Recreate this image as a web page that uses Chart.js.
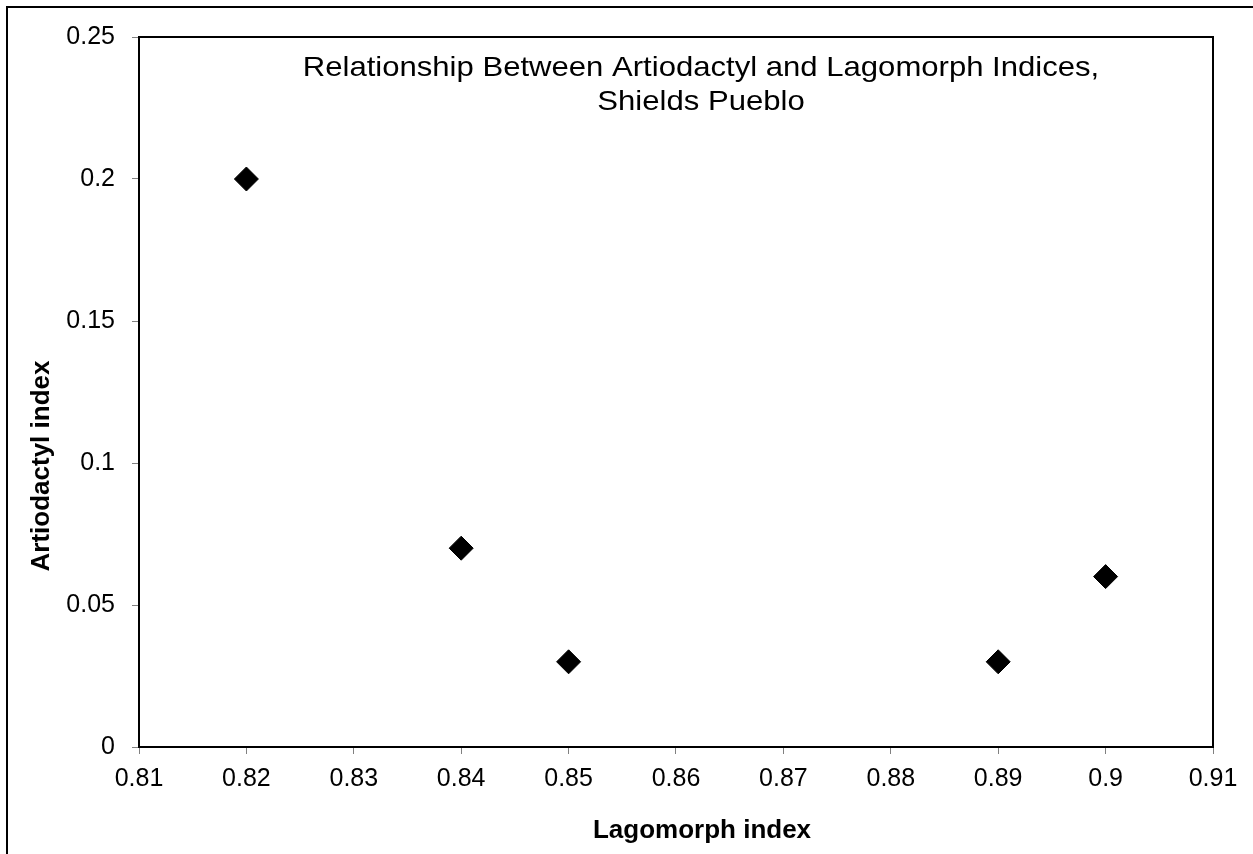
<!DOCTYPE html>
<html>
<head>
<meta charset="utf-8">
<title>Artiodactyl vs Lagomorph Indices</title>
<script src="https://cdn.jsdelivr.net/npm/chart.js@4/dist/chart.umd.min.js"></script>
<style>
  html, body { margin: 0; padding: 0; background: #fff; }
  #wrap { width: 1253px; height: 854px; position: relative; }
</style>
</head>
<body>
<div id="wrap"><canvas id="chart"></canvas></div>
<script>
// data
const lagomorphIndex = [0.82, 0.84, 0.85, 0.89, 0.90];
const artiodactylIndex = [0.20, 0.07, 0.03, 0.03, 0.06];

// axis ticks
const xTicks = [0.81, 0.82, 0.83, 0.84, 0.85, 0.86, 0.87, 0.88, 0.89, 0.90, 0.91];
const yTicks = [0, 0.05, 0.10, 0.15, 0.20, 0.25];

const titleLines = ['Relationship Between Artiodactyl and Lagomorph Indices,', 'Shields Pueblo'];
const xTitle = 'Lagomorph index';
const yTitle = 'Artiodactyl index';

const FONT = "'Liberation Sans', Arial, Helvetica, sans-serif";

// frame around the whole picture (only top/left visible) and box around the plot
const framePlugin = {
  id: 'frame',
  beforeDraw(chart) {
    const ctx = chart.ctx;
    ctx.save();
    ctx.fillStyle = '#fff';
    ctx.fillRect(0, 0, chart.width, chart.height);
    ctx.strokeStyle = '#000';
    ctx.lineWidth = 2;
    ctx.beginPath();
    ctx.moveTo(7, chart.height);
    ctx.lineTo(7, 7);
    ctx.lineTo(chart.width, 7);
    ctx.stroke();
    ctx.restore();
  },
  afterDatasetsDraw(chart) {
    const a = chart.chartArea;
    const ctx = chart.ctx;
    ctx.save();
    ctx.strokeStyle = '#000';
    ctx.lineWidth = 2;
    ctx.beginPath();
    ctx.moveTo(a.left, a.top);
    ctx.lineTo(a.right, a.top);
    ctx.lineTo(a.right, a.bottom);
    ctx.stroke();
    ctx.restore();
  }
};

// title sits inside the plot, axis titles are placed off-centre like in the original
const textPlugin = {
  id: 'texts',
  afterDraw(chart) {
    const ctx = chart.ctx;
    ctx.save();
    ctx.fillStyle = '#000';
    ctx.textAlign = 'center';
    ctx.textBaseline = 'alphabetic';

    ctx.font = '28px ' + FONT;
    const baselines = [76, 110];
    titleLines.forEach((t, i) => {
      ctx.save();
      ctx.translate(701, baselines[i]);
      ctx.scale(1.11, 1);
      ctx.fillText(t, 0, 0);
      ctx.restore();
    });

    ctx.font = 'bold 26px ' + FONT;
    ctx.fillText(xTitle, 702, 838);

    ctx.save();
    ctx.translate(49, 466);
    ctx.rotate(-Math.PI / 2);
    ctx.fillText(yTitle, 0, 0);
    ctx.restore();

    ctx.restore();
  }
};

const fmt = v => String(+v.toFixed(2));

new Chart(document.getElementById('chart'), {
  type: 'scatter',
  data: {
    datasets: [{
      data: lagomorphIndex.map((x, i) => ({ x: x, y: artiodactylIndex[i] })),
      pointStyle: 'rectRot',
      pointRadius: 12,
      pointHoverRadius: 12,
      backgroundColor: '#000',
      borderColor: '#000',
      borderWidth: 1
    }]
  },
  options: {
    responsive: true,
    maintainAspectRatio: false,
    animation: false,
    layout: { padding: { top: 37, right: 40, left: 0, bottom: 0 } },
    plugins: {
      legend: { display: false },
      tooltip: { enabled: false },
      title: { display: false }
    },
    scales: {
      x: {
        type: 'linear',
        min: 0.81,
        max: 0.91,
        afterBuildTicks: s => { s.ticks = xTicks.map(v => ({ value: v })); },
        afterFit: s => { s.height = 107; },
        grid: { drawOnChartArea: false, tickLength: 7, color: '#808080', lineWidth: 1 },
        border: { color: '#000', width: 2 },
        ticks: { color: '#000', font: { family: FONT, size: 25 }, padding: 10, maxRotation: 0, autoSkip: false, callback: fmt }
      },
      y: {
        type: 'linear',
        min: 0,
        max: 0.25,
        afterBuildTicks: s => { s.ticks = yTicks.map(v => ({ value: v })); },
        afterFit: s => { s.width = 139; },
        grid: { drawOnChartArea: false, tickLength: 7, color: '#808080', lineWidth: 1 },
        border: { color: '#000', width: 2 },
        ticks: { color: '#000', font: { family: FONT, size: 25 }, padding: 17, autoSkip: false, callback: fmt }
      }
    }
  },
  plugins: [framePlugin, textPlugin]
});
</script>
</body>
</html>
